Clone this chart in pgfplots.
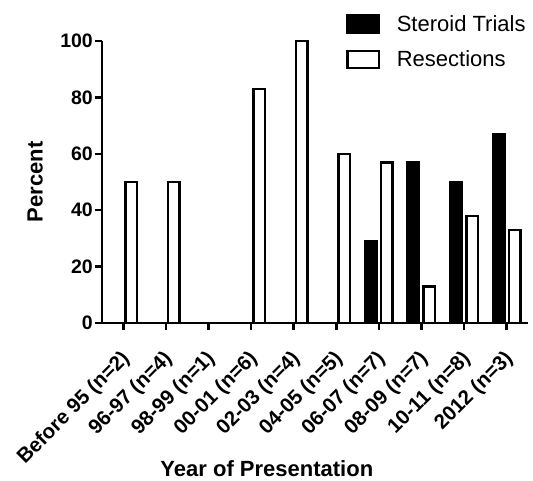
\documentclass[border=0pt]{standalone}
\usepackage{pgfplots}
\pgfplotsset{compat=1.18}
\usepackage{fontspec}
\setmainfont{Liberation Sans}
\begin{document}
\begin{tikzpicture}
\begin{axis}[
 at={(0,0)}, anchor=south west,
 scale only axis, width=426pt, height=282pt,
 xmin=-0.5, xmax=9.5, ymin=0, ymax=100,
 axis x line*=bottom, axis y line*=left,
 axis line style={line width=2.5pt,-},
 xtick={0,...,9},
 xticklabels={{Before 95 (n=2)},{96-97 (n=4)},{98-99 (n=1)},{00-01 (n=6)},{02-03 (n=4)},{04-05 (n=5)},{06-07 (n=7)},{08-09 (n=7)},{10-11 (n=8)},{2012 (n=3)}},
 ytick={0,20,...,100},
 tick align=outside, major tick length=7pt,
 tick style={line width=2.5pt, black},
 /pgf/number format/assume math mode=true,
 yticklabel style={font=\bfseries\fontsize{19.5}{22}\selectfont, inner sep=2pt},
 xticklabel style={font=\bfseries\fontsize{20.5}{23}\selectfont, xshift=4pt, yshift=-25pt, rotate=45, anchor=east, inner sep=1pt},
 ylabel={Percent}, xlabel={Year of Presentation},
 label style={font=\bfseries\fontsize{22}{26}\selectfont},
 ylabel style={at={(axis description cs:-0.157,0.5)}, anchor=center},
 xlabel style={at={(axis description cs:0.387,-0.515)}, anchor=center},
 ybar, bar width=11.5pt, clip=false,
 legend style={draw=none, fill=none, at={(axis description cs:0.573,1.099)}, anchor=north west,
   font=\fontsize{22}{26}\selectfont, row sep=14pt, inner sep=0pt, cells={anchor=west}},
]
\addplot[ybar, bar shift=-8pt, fill=black, draw=black, line width=2.5pt,
  legend image code/.code={\draw[line width=2.5pt,fill=black,draw=black] (0pt,-8.5pt) rectangle (31.5pt,8.5pt); \path (46pt,0pt);}]
  coordinates {(6,29) (7,57) (8,50) (9,67)};
\addlegendentry{Steroid Trials}
\addplot[ybar, bar shift=8pt, fill=white, draw=black, line width=2.5pt,
  legend image code/.code={\draw[line width=2.5pt,fill=white,draw=black] (0pt,-8.5pt) rectangle (31.5pt,8.5pt); \path (46pt,0pt);}]
  coordinates {(0,50) (1,50) (3,83) (4,100) (5,60) (6,57) (7,13) (8,38) (9,33)};
\addlegendentry{Resections}
\end{axis}
\pgfresetboundingbox
\path[use as bounding box] (-102pt,-157pt) rectangle (431pt,323pt);
\end{tikzpicture}
\end{document}
